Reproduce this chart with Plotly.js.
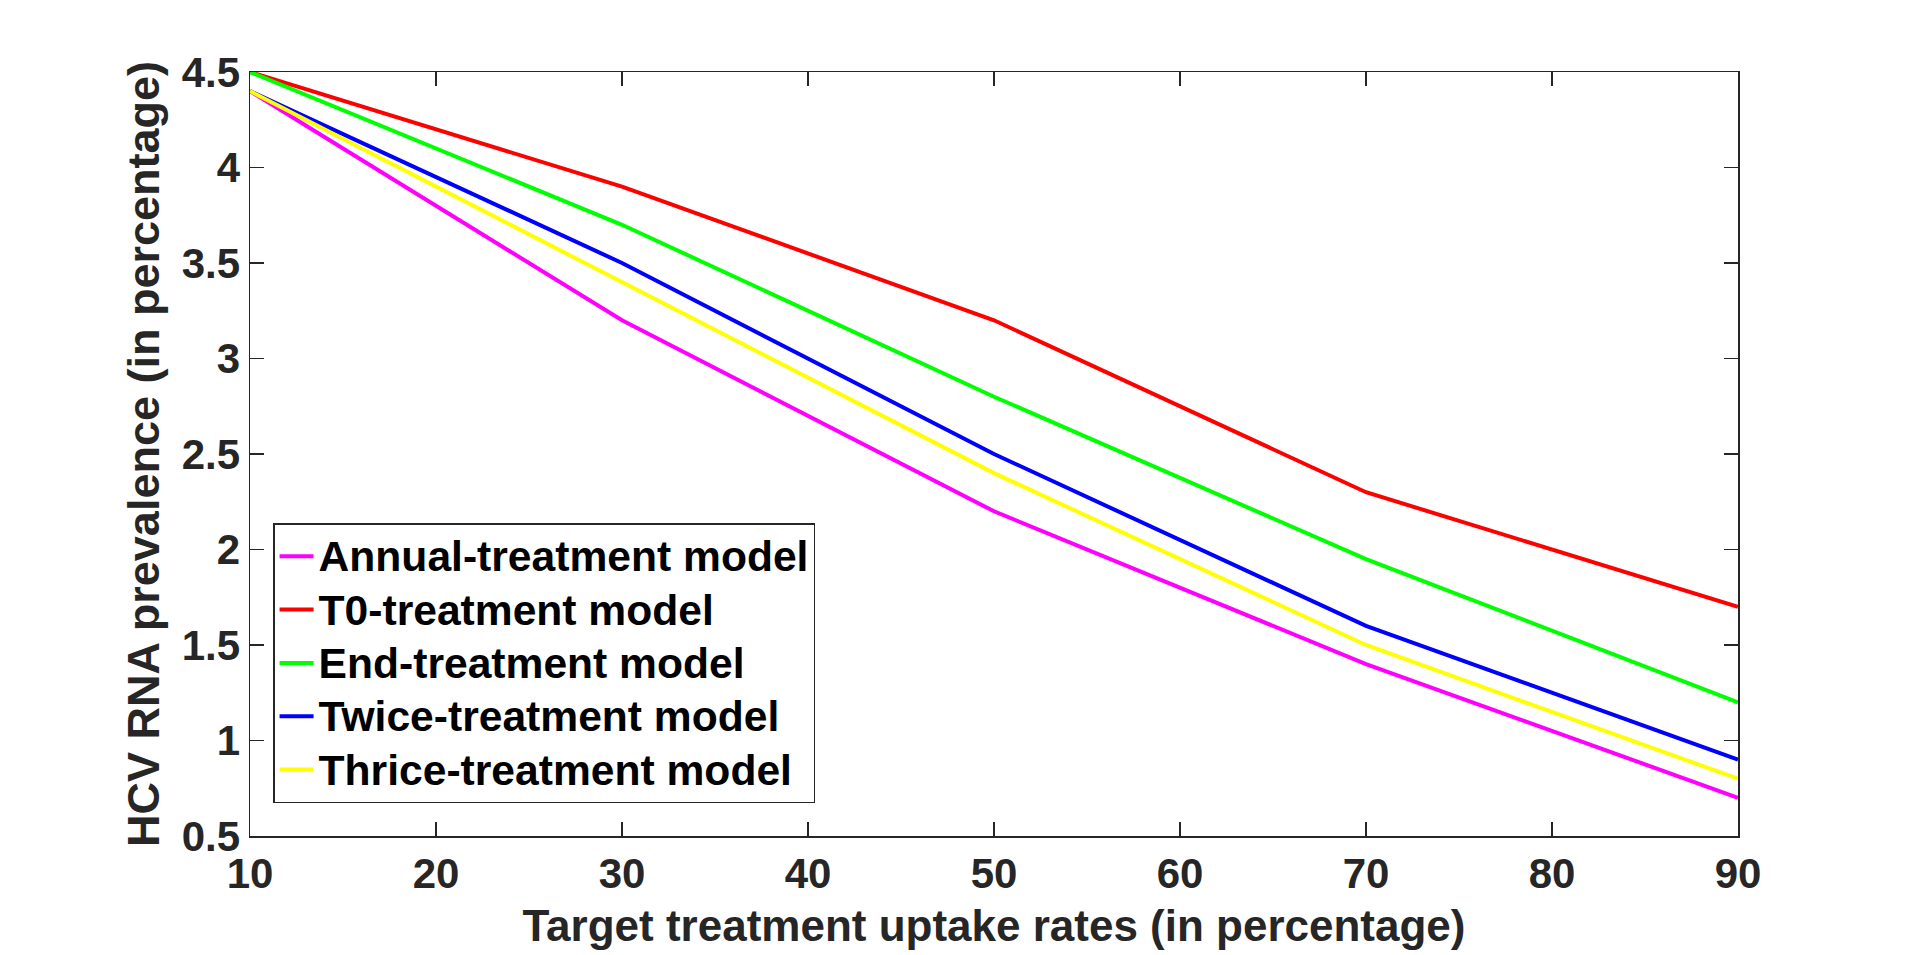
<!DOCTYPE html>
<html>
<head>
<meta charset="utf-8">
<script src="https://cdn.plot.ly/plotly-3.0.1.min.js"></script>
<style>html,body{margin:0;padding:0;background:#fff;}#chart{width:1920px;height:955px;}</style>
</head>
<body>
<div id="chart"></div>
<script>
const uptakeRates = [10, 30, 50, 70, 90];
const annualTreatment = [4.4, 3.2, 2.2, 1.4, 0.7];
const t0Treatment = [4.5, 3.9, 3.2, 2.3, 1.7];
const endTreatment = [4.5, 3.7, 2.8, 1.95, 1.2];
const twiceTreatment = [4.4, 3.5, 2.5, 1.6, 0.9];
const thriceTreatment = [4.4, 3.4, 2.4, 1.5, 0.8];
const seriesNames = ["Annual-treatment model", "T0-treatment model", "End-treatment model", "Twice-treatment model", "Thrice-treatment model"];
const seriesColors = ["#FF00FF", "#FF0000", "#00FF00", "#0000FF", "#FFFF00"];
const seriesValues = [annualTreatment, t0Treatment, endTreatment, twiceTreatment, thriceTreatment];
const xTicks = [10, 20, 30, 40, 50, 60, 70, 80, 90];
const yTicks = [0.5, 1, 1.5, 2, 2.5, 3, 3.5, 4, 4.5];

const FONT = "Liberation Sans, Arial, sans-serif";
const traces = seriesValues.map((vals, i) => ({
  x: uptakeRates, y: vals, type: "scatter", mode: "lines",
  name: '<span style="font-size:42.6px">' + seriesNames[i] + '</span>',
  line: {color: seriesColors[i], width: 4}
}));

const axisCommon = {
  showline: true, mirror: "ticks", linecolor: "#262626", linewidth: 1.5,
  ticks: "inside", ticklen: 14, tickwidth: 1.5, tickcolor: "#262626",
  showgrid: false, zeroline: false,
  tickfont: {family: FONT, size: 42, color: "#262626", weight: "bold"}
};

const layout = {
  width: 1920, height: 955,
  margin: {l: 250, r: 182, t: 72, b: 119},
  paper_bgcolor: "#fff", plot_bgcolor: "#fff",
  showlegend: true,
  xaxis: Object.assign({}, axisCommon, {
    range: [10, 90], tickvals: xTicks, ticktext: xTicks.map(String),
    title: {text: "Target treatment uptake rates (in percentage)", standoff: 14,
      font: {family: FONT, size: 44, color: "#262626", weight: "bold"}}
  }),
  yaxis: Object.assign({}, axisCommon, {
    range: [0.5, 4.5], tickvals: yTicks, ticktext: yTicks.map(String),
    title: {text: "HCV RNA prevalence (in percentage)", standoff: 8,
      font: {family: FONT, size: 45, color: "#262626", weight: "bold"}}
  }),
  legend: {
    x: 0.0155, y: 0.4095, xanchor: "left", yanchor: "top",
    bgcolor: "#fff", bordercolor: "#262626", borderwidth: 1.5,
    font: {family: FONT, size: 38.7, color: "#000", weight: "bold"},
    itemwidth: 34,
    tracegroupgap: 0
  }
};

Plotly.newPlot("chart", traces, layout, {displayModeBar: false, staticPlot: true});
</script>
</body>
</html>
